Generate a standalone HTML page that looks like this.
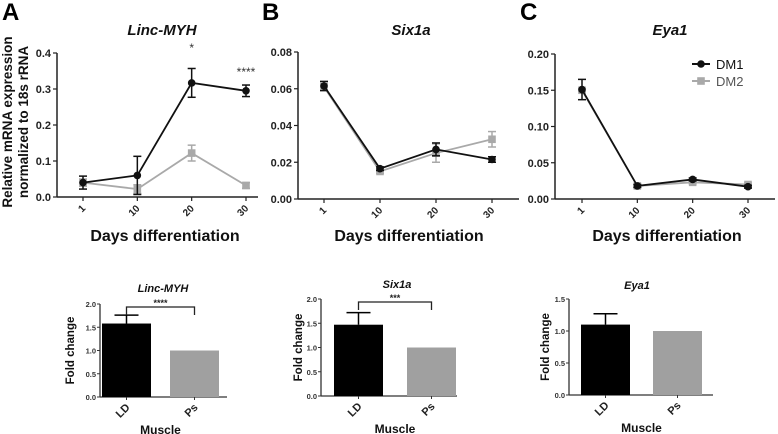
<!DOCTYPE html>
<html><head><meta charset="utf-8"><style>
html,body{margin:0;padding:0;background:#fff}
svg{display:block;font-family:"Liberation Sans",Arial,sans-serif}
</style></head><body>
<svg id="fig" width="778" height="434" viewBox="0 0 778 434" xmlns="http://www.w3.org/2000/svg"></svg>
<script>
const days = ["1","10","20","30"];
const aDM1 = [0.040, 0.060, 0.317, 0.295];
const aDM1err = [0.018, 0.053, 0.040, 0.016];
const aDM2 = [0.040, 0.022, 0.122, 0.032];
const aDM2err = [0.010, 0.012, 0.022, 0.008];
const bDM1 = [0.0615, 0.0165, 0.027, 0.0215];
const bDM1err = [0.0025, 0.001, 0.0035, 0.0015];
const bDM2 = [0.061, 0.015, 0.025, 0.0325];
const bDM2err = [0.002, 0.001, 0.005, 0.0042];
const cDM1 = [0.151, 0.018, 0.027, 0.017];
const cDM1err = [0.014, 0.002, 0.002, 0.002];
const cDM2 = [0.150, 0.018, 0.023, 0.020];
const cDM2err = [0.002, 0.002, 0.002, 0.002];
const aTicks = ["0.0","0.1","0.2","0.3","0.4"];
const bTicks = ["0.00","0.02","0.04","0.06","0.08"];
const cTicks = ["0.00","0.05","0.10","0.15","0.20"];
const muscles = ["LD","Ps"];
const barA = [1.58, 1.0];
const barAerr = [0.18, 0];
const barB = [1.47, 1.0];
const barBerr = [0.25, 0];
const barC = [1.10, 1.0];
const barCerr = [0.17, 0];
const barTicksAB = ["0.0","0.5","1.0","1.5","2.0"];
const barTicksC = ["0.0","0.5","1.0","1.5"];

const NS="http://www.w3.org/2000/svg";
const svg=document.getElementById('fig');
function mk(tag,attrs,parent,text){const e=document.createElementNS(NS,tag);for(const k in attrs)e.setAttribute(k,attrs[k]);if(text!==undefined)e.textContent=text;(parent||svg).appendChild(e);return e;}

function linePanel(o){
  const g=mk('g',{});
  
  
  const ymax=parseFloat(o.ticks[o.ticks.length-1]);
  const ys=v=>o.y0-(v/ymax)*(o.y0-o.y1);
  const xs=i=>o.xp[0]+i*(o.xp[1]-o.xp[0])/3;
  mk('line',{x1:o.ax,y1:o.y1,x2:o.ax,y2:o.y0,stroke:'#222','stroke-width':1.5},g);
  mk('line',{x1:o.ax,y1:o.y0,x2:o.xend,y2:o.y0,stroke:'#222','stroke-width':1.5},g);
  o.ticks.forEach((t,i)=>{const y=ys(parseFloat(t));
    mk('line',{x1:o.ax-4,y1:y,x2:o.ax,y2:y,stroke:'#222','stroke-width':1.2},g);
    const tx=mk('text',{x:o.ax-6,y:y+4,'text-anchor':'end','font-size':11,'font-weight':'bold',fill:'#222'},g,t);
    
    
  });
  days.forEach((d,i)=>{const x=xs(i);
    mk('line',{x1:x,y1:o.y0,x2:x,y2:o.y0+4,stroke:'#222','stroke-width':1.2},g);
    const tx=mk('text',{x:x+3,y:o.y0+12,'text-anchor':'end','font-size':10,'font-weight':'bold',fill:'#222',transform:`rotate(-45 ${x+3} ${o.y0+12})`},g,d);
    
    
  });
  const series=[[o.dm2,o.dm2e,'#a9a9a9','sq','dm2-series'],[o.dm1,o.dm1e,'#111','ci','dm1-series']];
  series.forEach(([v,e,c,shape,nm])=>{
    const sg=mk('g',{},g);
    
    
    mk('polyline',{points:v.map((val,i)=>xs(i)+','+ys(val)).join(' '),fill:'none',stroke:c,'stroke-width':1.8},sg);
    v.forEach((val,i)=>{const x=xs(i),yt=ys(val+e[i]),yb=ys(Math.max(0,val-e[i]));
      mk('line',{x1:x,y1:yt,x2:x,y2:yb,stroke:c,'stroke-width':1.5},sg);
      mk('line',{x1:x-4,y1:yt,x2:x+4,y2:yt,stroke:c,'stroke-width':1.5},sg);
      mk('line',{x1:x-4,y1:yb,x2:x+4,y2:yb,stroke:c,'stroke-width':1.5},sg);
      if(shape==='ci')mk('circle',{cx:x,cy:ys(val),r:3.8,fill:c},sg);
      else mk('rect',{x:x-3.8,y:ys(val)-3.8,width:7.6,height:7.6,fill:c},sg);
    });
  });
  const t=mk('text',{x:o.tx,y:35,'text-anchor':'middle','font-size':15,'font-weight':'bold','font-style':'italic',fill:'#111'},g,o.title);
  
  
  const xt=mk('text',{x:o.xtx,y:241,'text-anchor':'middle','font-size':16,'font-weight':'bold',fill:'#111'},g,'Days differentiation');
  
  
  const L=mk('text',{x:o.lx,y:20,'font-size':24,'font-weight':'bold',fill:'#000'},g,o.letter);
  
  
  return {g,xs,ys};
}

const A=linePanel({name:'panel-a-linc-myh',ax:57,y0:197,y1:53,xend:258,xp:[83,246],ticks:aTicks,dm1:aDM1,dm1e:aDM1err,dm2:aDM2,dm2e:aDM2err,title:'Linc-MYH',tx:162,xtx:165,letter:'A',lx:2});
linePanel({name:'panel-b-six1a',ax:298,y0:199,y1:52,xend:519,xp:[324,492],ticks:bTicks,dm1:bDM1,dm1e:bDM1err,dm2:bDM2,dm2e:bDM2err,title:'Six1a',tx:411,xtx:409,letter:'B',lx:262});
linePanel({name:'panel-c-eya1',ax:555,y0:199,y1:54,xend:775,xp:[582,748],ticks:cTicks,dm1:cDM1,dm1e:cDM1err,dm2:cDM2,dm2e:cDM2err,title:'Eya1',tx:670,xtx:667,letter:'C',lx:520});

let s1=mk('text',{x:A.xs(2),y:52,'text-anchor':'middle','font-size':12,fill:'#333'},null,'*');


let s2=mk('text',{x:A.xs(3),y:76,'text-anchor':'middle','font-size':12,fill:'#333'},null,'****');



const yt=mk('text',{transform:'translate(12,122) rotate(-90)','text-anchor':'middle','font-size':13.5,'font-weight':'bold',fill:'#111'});


mk('tspan',{x:0,y:0},yt,'Relative mRNA expression');
mk('tspan',{x:0,y:16},yt,'normalized to 18s rRNA');

const lg=mk('g',{});


mk('line',{x1:692,y1:64,x2:710,y2:64,stroke:'#111','stroke-width':2},lg);
mk('circle',{cx:701,cy:64,r:3.8,fill:'#111'},lg);
mk('text',{x:716,y:69,'font-size':13,fill:'#111'},lg,'DM1');
mk('line',{x1:692,y1:81,x2:710,y2:81,stroke:'#a9a9a9','stroke-width':2},lg);
mk('rect',{x:697.2,y:77.2,width:7.6,height:7.6,fill:'#a9a9a9'},lg);
mk('text',{x:716,y:86,'font-size':13,fill:'#555'},lg,'DM2');

function barPanel(o){
  const g=mk('g',{});
  
  
  const ymax=parseFloat(o.ticks[o.ticks.length-1]);
  const ys=v=>o.y0-(v/ymax)*(o.y0-o.y1);
  mk('line',{x1:o.ax,y1:o.y1,x2:o.ax,y2:o.y0,stroke:'#333','stroke-width':1.3},g);
  mk('line',{x1:o.ax,y1:o.y0,x2:o.xend,y2:o.y0,stroke:'#333','stroke-width':1.3},g);
  o.ticks.forEach(t=>{const y=ys(parseFloat(t));
    mk('line',{x1:o.ax-3,y1:y,x2:o.ax,y2:y,stroke:'#333'},g);
    const tx=mk('text',{x:o.ax-4,y:y+3,'text-anchor':'end','font-size':7.5,'font-weight':'bold',fill:'#333'},g,t);
    
    
  });
  const colors=['#000','#a0a0a0'];
  o.vals.forEach((v,i)=>{const x=o.bx[i],w=49,cx=x+w/2;
    const r=mk('rect',{x:x,y:ys(v),width:w,height:o.y0-ys(v),fill:colors[i]},g);
    
    
    if(o.err[i]>0){const yt=ys(v+o.err[i]);
      mk('line',{x1:cx,y1:ys(v),x2:cx,y2:yt,stroke:colors[i],'stroke-width':1.5},g);
      mk('line',{x1:cx-12,y1:yt,x2:cx+12,y2:yt,stroke:colors[i],'stroke-width':1.5},g);}
    mk('line',{x1:cx,y1:o.y0,x2:cx,y2:o.y0+3,stroke:'#333'},g);
    const tx=mk('text',{x:cx+4,y:o.y0+11,'text-anchor':'end','font-size':11,'font-weight':'bold',fill:'#222',transform:`rotate(-45 ${cx+4} ${o.y0+11})`},g,muscles[i]);
    
    
  });
  if(o.sig){const c1=o.bx[0]+24.5,c2=o.bx[1]+24.5,yb=ys(2.0)+3;
    const sg=mk('g',{},g);
    
    
    mk('polyline',{points:`${c1},${yb+8} ${c1},${yb} ${c2},${yb} ${c2},${yb+8}`,fill:'none',stroke:'#222','stroke-width':1.3},sg);
    mk('text',{x:(c1+c2)/2,y:yb-1,'text-anchor':'middle','font-size':9,'font-weight':'bold',fill:'#222'},sg,o.sig);
  }
  const t=mk('text',{x:o.tx,y:o.ty,'text-anchor':'middle','font-size':11,'font-weight':'bold','font-style':'italic',fill:'#111'},g,o.title);
  
  
  const yl=mk('text',{transform:`translate(${o.ylx},${(o.y0+o.y1)/2}) rotate(-90)`,'text-anchor':'middle','font-size':11.5,'font-weight':'bold',fill:'#111'},g,'Fold change');
  
  
  const xl=mk('text',{x:(o.bx[0]+o.bx[1]+49)/2,y:o.y0+37,'text-anchor':'middle','font-size':12,'font-weight':'bold',fill:'#111'},g,'Muscle');
  
  
}
barPanel({name:'bar-panel-linc-myh',ax:100,y0:397,y1:304,xend:227,bx:[102,170],ticks:barTicksAB,vals:barA,err:barAerr,sig:'****',title:'Linc-MYH',tx:163,ty:292,ylx:74});
barPanel({name:'bar-panel-six1a',ax:321,y0:396,y1:299,xend:457,bx:[334,407],ticks:barTicksAB,vals:barB,err:barBerr,sig:'***',title:'Six1a',tx:397,ty:288,ylx:302});
barPanel({name:'bar-panel-eya1',ax:569,y0:395,y1:299,xend:713,bx:[581,653],ticks:barTicksC,vals:barC,err:barCerr,sig:null,title:'Eya1',tx:637,ty:289,ylx:549});
</script>
</body></html>
